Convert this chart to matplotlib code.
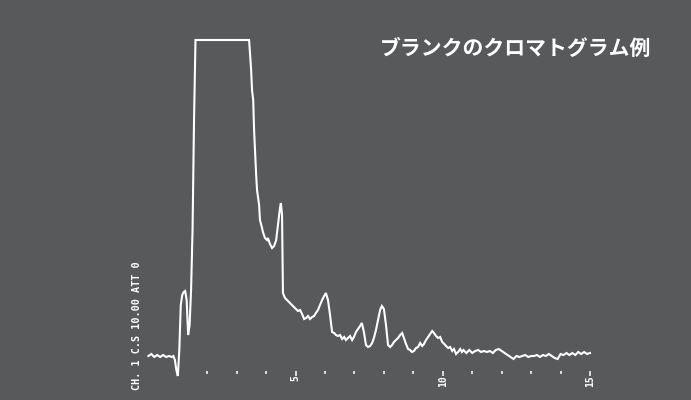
import matplotlib
matplotlib.use("Agg")
import matplotlib.pyplot as plt

# ===================== Data =====================

# retention time (min) and detector signal (arbitrary units)
time_min = [
    0.0, 0.1, 0.2, 0.3, 0.4, 0.5, 0.6, 0.7, 0.8, 0.85, 0.9, 0.95,
    1.0, 1.05, 1.1, 1.15, 1.2, 1.25, 1.3, 1.35, 1.4, 1.45, 1.5, 1.55, 1.6,
    2.0, 2.2, 2.5, 2.8, 3.1, 3.42,
    3.49, 3.52, 3.56, 3.59, 3.62, 3.66, 3.69, 3.76, 3.79, 3.86, 3.89, 3.96,
    4.03, 4.06, 4.13, 4.20, 4.27, 4.34, 4.40, 4.47, 4.50, 4.54, 4.56, 4.57,
    4.64, 4.74, 4.81, 4.91, 5.01, 5.08, 5.15, 5.22, 5.29, 5.36, 5.42, 5.49,
    5.56, 5.63, 5.69, 5.76, 5.83, 5.90, 5.97, 6.03, 6.10, 6.17, 6.24, 6.31,
    6.37, 6.44, 6.51, 6.58, 6.65, 6.71, 6.78, 6.85, 6.92, 6.98, 7.05, 7.12,
    7.19, 7.25, 7.32, 7.39, 7.46, 7.53, 7.60, 7.66, 7.73, 7.80, 7.87, 7.93,
    8.00, 8.07, 8.14, 8.21, 8.28, 8.34, 8.41, 8.48, 8.55, 8.62, 8.68, 8.75,
    8.82, 8.89, 8.95, 9.02, 9.09, 9.16, 9.23, 9.30, 9.36, 9.43, 9.50, 9.57,
    9.64, 9.70, 9.77, 9.84, 9.91, 9.98, 10.05, 10.11, 10.18, 10.25, 10.32,
    10.38, 10.45, 10.52, 10.59, 10.65,
    10.7, 10.8, 10.9, 11.0, 11.1, 11.2, 11.3, 11.4, 11.5, 11.6, 11.7, 11.8,
    11.9, 12.0, 12.1, 12.2, 12.3, 12.4, 12.5, 12.6, 12.7, 12.8, 12.9, 13.0,
    13.1, 13.2, 13.3, 13.4, 13.5, 13.6, 13.7, 13.8, 13.9, 14.0, 14.1, 14.2,
    14.3, 14.4, 14.5, 14.6, 14.7, 14.8, 14.9, 15.0,
]

signal = [
    -1, 1, -2, 0, -2, 0, -2, -1, -2, -1, -5, -15,
    -21, 5, 50, 60, 63, 64, 55, 20, 30, 65, 125, 235, 315,
    315, 315, 315, 315, 315, 315,
    285, 265, 255, 225, 205, 180, 165, 150, 135, 127, 123, 117,
    115, 117, 111, 107, 109, 115, 130, 147, 152, 140, 82, 62,
    57, 54, 52, 49, 46, 44, 45, 41, 36, 37, 39, 36,
    38, 39, 42, 45, 50, 55, 59, 62, 55, 40, 23, 22,
    20, 19, 20, 16, 18, 15, 17, 19, 15, 18, 23, 26,
    29, 32, 23, 10, 8, 9, 12, 17, 25, 35, 45, 49,
    46, 30, 10, 8, 10, 13, 15, 17, 20, 22, 17, 11,
    6, 5, 3, 4, 7, 8, 12, 9, 11, 15, 18, 21,
    24, 22, 19, 17, 18, 13, 11, 9, 7, 8, 4,
    6, 1, 3, 6, 3,
    5, 2, 5, 2, 4, 5, 3, 4, 3, 4, 2, 5,
    6, 4, 2, 0, -2, -4, -1, -2, -1, 0, -2, -1,
    -1, 0, -2, 0, -1, 1, -1, -3, -4, 1, 0, 2,
    0, 2, 0, 3, 1, 3, 1, 2,
]

tick_minutes = list(range(1, 16))
labelled_minutes = [5, 10, 15]

title = "ブランクのクロマトグラム例"
channel_note = "CH. 1 C.S 10.00 ATT 0"

# ===================== Plot =====================

bg = "#58595B"
fg = "white"

fig = plt.figure(figsize=(6.91, 4.00), dpi=100)
fig.patch.set_facecolor(bg)
ax = fig.add_axes([0, 0, 1, 1])
ax.set_facecolor(bg)
ax.set_xlim(-5.04, 18.43)
ax.set_ylim(-45, 355)
ax.axis("off")

ax.plot(time_min, signal, color=fg, lw=1.5, solid_joinstyle="miter")

# printed time scale under the trace
for m in tick_minutes:
    length = 5 if m in labelled_minutes else 3
    ax.vlines(m, -16 - length, -16, color=fg, lw=1.1)
for m in labelled_minutes:
    ax.text(m, -20, str(m), rotation=90, ha="center", va="top",
            fontsize=7, fontweight="bold", color=fg,
            family="DejaVu Sans Mono")

ax.text(-0.38, -35, channel_note, rotation=90, ha="center", va="bottom",
        fontsize=7.3, fontweight="bold", color=fg,
        family="DejaVu Sans Mono")

fig.text(0.746, 0.88, title, ha="center", va="center", fontsize=15,
         fontweight="bold", color=fg,
         family=["Noto Sans CJK JP", "DejaVu Sans"])

fig.savefig("out.png", dpi=100, facecolor=bg)
plt.close(fig)
